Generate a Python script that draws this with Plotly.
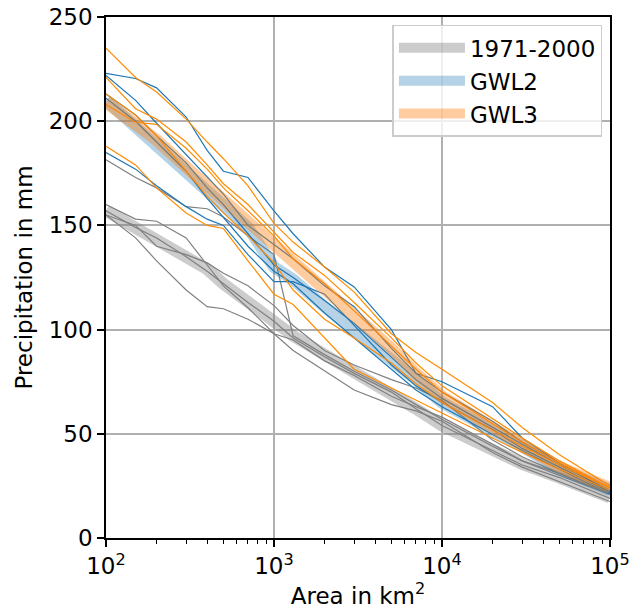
import plotly.graph_objects as go

# Area knots (km²) shared by every depth-area curve
AREA_KM2 = [100, 150, 200, 300, 400, 500, 700, 1000, 1300, 2000, 3000,
            5000, 7000, 10000, 20000, 30000, 50000, 100000]

# Ensemble medians (mm)
MEDIAN_1971_2000 = [157, 149, 143, 135, 129, 122, 113, 103.5, 97, 88, 80, 70, 62, 54, 42, 35.5, 29, 19.5]
MEDIAN_GWL2 = [210, 197, 188, 175, 166, 159, 149, 130, 124, 111, 100, 86, 76, 65, 52, 44, 33, 23]
MEDIAN_GWL3 = [209, 199, 191, 178, 169, 163, 153, 142, 133, 119, 107, 91, 79, 68, 53, 45, 34, 24]

# Individual members, 1971-2000
REF_M1 = [181.5, 173, 168, 159, 158, 154, 145, 136, 97, 88, 80, 71, 64, 57, 44, 37, 30, 21]
REF_M2 = [160, 153, 152, 144, 131, 121, 110.5, 98, 95, 85, 78, 68, 63, 58, 45, 37, 31, 21]
REF_M3 = [155, 150, 140, 136, 132, 127, 121, 111.5, 102, 90, 83, 76, 72, 66, 47, 39, 31, 21]
REF_M4 = [155, 144, 133, 119, 111, 110, 105, 98, 90, 80, 71, 64, 61, 56, 41, 34, 27, 17.5]
REF_M5 = [157, 149, 144, 135, 128, 122, 113, 104, 96, 87, 79, 70, 62, 54, 42, 35, 29, 19]

# Individual members, GWL2
GWL2_M1 = [223, 220.5, 216, 202, 186, 176, 173, 157, 146, 130, 120.5, 100, 79, 75, 63, 48, 36, 22]
GWL2_M2 = [222, 210, 199, 184, 173, 165, 150, 141, 134, 121, 111, 91, 79, 70, 56, 46, 36, 22]
GWL2_M3 = [213, 203, 193, 180, 168, 160, 146, 131, 125, 114, 103, 87, 76, 67, 53, 45, 35, 23]
GWL2_M4 = [185, 177, 169, 159, 153, 150, 136, 123, 123, 117, 102, 83, 73, 65, 52, 43, 34, 22]
GWL2_M5 = [211, 200, 190, 176, 163, 154, 140, 128, 122, 108, 96, 81, 71, 63, 50, 42, 33, 21]

# Individual members, GWL3
GWL3_M1 = [235, 221, 214, 201, 190, 182, 169, 151, 142, 130, 118, 98, 89, 81, 65, 53, 40, 25]
GWL3_M2 = [221, 206, 201, 190, 179, 170, 160, 147, 137, 126, 113, 96, 84, 73, 57, 48, 37, 24]
GWL3_M3 = [208, 199.5, 198.5, 187, 177, 168, 157, 145, 134, 122, 109, 92, 81, 70, 55, 46, 36, 24]
GWL3_M4 = [188, 179, 168, 156, 150, 148.5, 133, 117, 112, 96, 81, 72, 66, 60, 48, 41, 33, 23]
GWL3_M5 = [213, 203, 193, 176, 164, 156, 145, 132, 119, 105, 96, 84, 74, 65, 52, 44, 35, 24]

# Axis ticks
X_TICKS = [100, 1000, 10000, 100000]
X_TICK_TEXT = ["10<sup>2</sup>", "10<sup>3</sup>", "10<sup>4</sup>", "10<sup>5</sup>"]
X_MINOR_TICKS = [m * 10 ** e for e in (2, 3, 4) for m in range(2, 10)]

GROUPS = [
    ("1971-2000", [REF_M1, REF_M2, REF_M3, REF_M4, REF_M5], MEDIAN_1971_2000,
     "#808080", "rgba(128,128,128,0.4)"),
    ("GWL2", [GWL2_M1, GWL2_M2, GWL2_M3, GWL2_M4, GWL2_M5], MEDIAN_GWL2,
     "#1f77b4", "rgba(31,119,180,0.33)"),
    ("GWL3", [GWL3_M1, GWL3_M2, GWL3_M3, GWL3_M4, GWL3_M5], MEDIAN_GWL3,
     "#ff8c00", "rgba(255,127,14,0.4)"),
]

FONT = "DejaVu Sans"
fig = go.Figure()

for name, members, median, line_color, band_color in GROUPS:
    for m in members:
        fig.add_trace(go.Scatter(x=AREA_KM2, y=m, mode="lines",
                                 line=dict(color=line_color, width=1.2),
                                 showlegend=False, hoverinfo="skip"))
    fig.add_trace(go.Scatter(x=AREA_KM2, y=median, mode="lines", name=name,
                             line=dict(color=band_color, width=12)))

axis_common = dict(
    showline=True, linecolor="black", linewidth=1.6, mirror=True,
    ticks="outside", ticklen=7, tickwidth=1.6, tickcolor="black",
    showgrid=True, gridcolor="#b0b0b0", gridwidth=1.6, zeroline=False,
    automargin=False,
    tickfont=dict(family=FONT, size=23, color="black"),
)

fig.update_xaxes(type="log", range=[2, 5], tickmode="array",
                 tickvals=X_TICKS, ticktext=X_TICK_TEXT,
                 minor=dict(ticks="outside", ticklen=4, tickwidth=1.2,
                            tickcolor="black", tickvals=X_MINOR_TICKS,
                            showgrid=False),
                 title=dict(text="Area in km<sup>2</sup>", standoff=6,
                            font=dict(family=FONT, size=23, color="black")),
                 **axis_common)
fig.update_yaxes(range=[0, 250], dtick=50,
                 title=dict(text="Precipitation in mm", standoff=10,
                            font=dict(family=FONT, size=23, color="black")),
                 **axis_common)

fig.update_layout(
    width=630, height=609,
    margin=dict(l=106, r=20, t=17, b=71),
    plot_bgcolor="white", paper_bgcolor="white",
    font=dict(family=FONT, size=23, color="black"),
    legend=dict(x=0.985, y=0.985, xanchor="right", yanchor="top",
                itemwidth=66,
                bgcolor="rgba(255,255,255,0.8)", bordercolor="#cccccc",
                borderwidth=1.5, font=dict(family=FONT, size=23, color="black")),
)

fig.write_html("out.html")
